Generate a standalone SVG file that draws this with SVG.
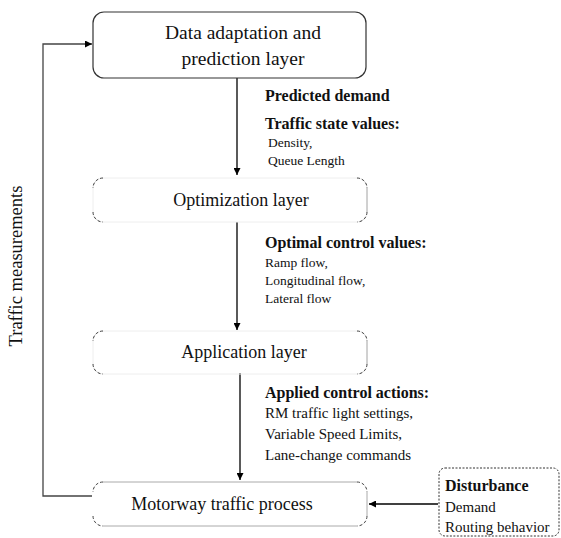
<svg xmlns="http://www.w3.org/2000/svg" width="561" height="538" viewBox="0 0 561 538">
<defs>
<marker id="ah" viewBox="0 0 10 10" refX="10" refY="5" markerWidth="7" markerHeight="7" orient="auto" markerUnits="userSpaceOnUse">
<path d="M0,0 L10,5 L0,10 z" fill="#000"/>
</marker>
</defs>
<style>
text{font-family:"Liberation Serif","Times New Roman",serif;fill:#111}
.nt{font-size:18px;text-anchor:middle}
.b{font-size:16px;font-weight:bold}
.s{font-size:15px}
.xs{font-size:13.5px}
.edge{fill:none;stroke:#000;stroke-width:1.3}
.fb{fill:none;stroke:#444;stroke-width:1.3}
.corner{fill:none;stroke:#444;stroke-width:1;stroke-dasharray:3 2}
.faint{fill:none;stroke:#eee;stroke-width:1}
.side{fill:none;stroke:#aaa;stroke-width:1}
</style>
<rect width="561" height="538" fill="#fff"/>
<g id="connectors">
<path class="edge" d="M237,78 V175" marker-end="url(#ah)"/>
<path class="edge" d="M237,222 V330" marker-end="url(#ah)"/>
<path class="edge" d="M240,373 V480" marker-end="url(#ah)"/>
<path class="edge" d="M438,504 H369" marker-end="url(#ah)"/>
<path class="fb" d="M92,496 H43 V44 H92" marker-end="url(#ah)"/>
</g>
<g id="data-layer">
<rect x="93" y="12" width="273" height="66" rx="11" fill="#fff" stroke="#333" stroke-width="1.2"/>
<text class="nt" x="243" y="39" style="font-size:19.5px">Data adaptation and</text>
<text class="nt" x="243" y="65" style="font-size:19.5px">prediction layer</text>
</g>
<g id="optimization-layer">
<rect class="faint" x="93" y="178" width="274" height="44" rx="10"/>
<path class="side" d="M367,188 V212"/>
<path class="corner" d="M103,178 A10,10 0 0 0 93,188 M93,212 A10,10 0 0 0 103,222 M357,178 A10,10 0 0 1 367,188 M367,212 A10,10 0 0 1 357,222"/>
<text class="nt" x="241" y="206">Optimization layer</text>
</g>
<g id="application-layer">
<rect class="faint" x="93" y="331" width="274" height="43" rx="10"/>
<path class="side" d="M367,341 V364"/>
<path class="corner" d="M103,331 A10,10 0 0 0 93,341 M93,364 A10,10 0 0 0 103,374 M357,331 A10,10 0 0 1 367,341 M367,364 A10,10 0 0 1 357,374"/>
<text class="nt" x="244" y="358">Application layer</text>
</g>
<g id="motorway">
<path class="side" d="M103,482 H357 M103,526 H357 M367,492 V516"/>
<path class="corner" d="M103,482 A10,10 0 0 0 93,492 M93,516 A10,10 0 0 0 103,526 M357,482 A10,10 0 0 1 367,492 M367,516 A10,10 0 0 1 357,526"/>
<text class="nt" x="222" y="510">Motorway traffic process</text>
</g>
<g id="disturbance">
<rect x="439" y="468" width="120" height="68" rx="6" fill="#fff" stroke="#333" stroke-width="1" stroke-dasharray="2 1.5"/>
<text class="b" x="445" y="491">Disturbance</text>
<text class="s" x="445" y="512">Demand</text>
<text class="s" x="445" y="532">Routing behavior</text>
</g>
<g id="labels">
<text class="b" x="265" y="101">Predicted demand</text>
<text class="b" x="265" y="129">Traffic state values:</text>
<text class="xs" x="268" y="147">Density,</text>
<text class="xs" x="268" y="165">Queue Length</text>
<text class="b" x="265" y="248">Optimal control values:</text>
<text class="xs" x="265" y="267">Ramp flow,</text>
<text class="xs" x="265" y="285">Longitudinal flow,</text>
<text class="xs" x="265" y="303">Lateral flow</text>
<text class="b" x="265" y="398">Applied control actions:</text>
<text class="s" x="265" y="418">RM traffic light settings,</text>
<text class="s" x="265" y="439">Variable Speed Limits,</text>
<text class="s" x="265" y="460">Lane-change commands</text>
<text x="0" y="0" transform="translate(22,266) rotate(-90)" text-anchor="middle" style="font-size:18.5px">Traffic measurements</text>
</g>
</svg>
